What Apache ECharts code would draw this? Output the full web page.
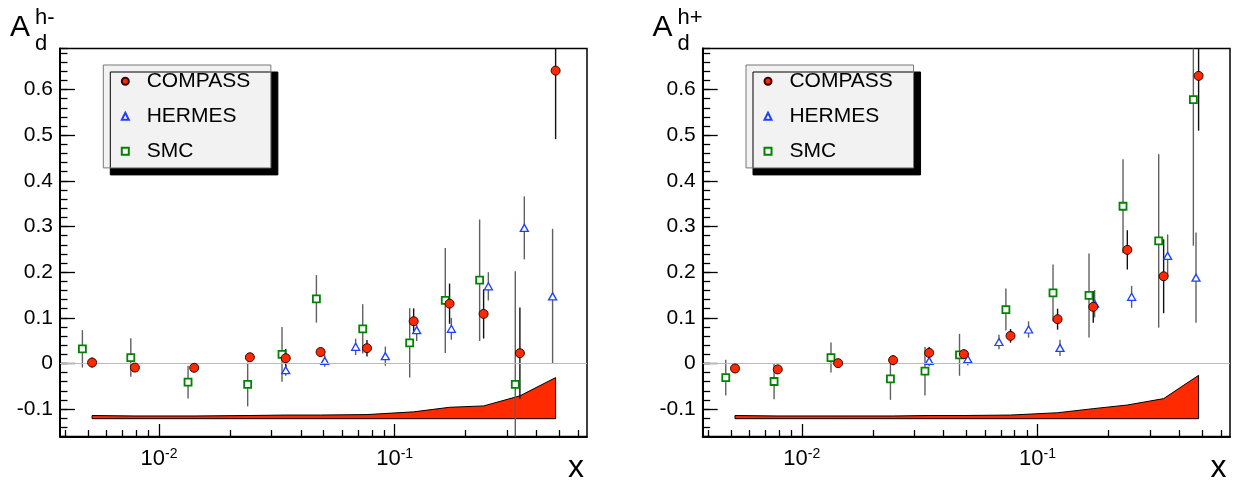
<!DOCTYPE html>
<html><head><meta charset="utf-8">
<script src="https://cdn.jsdelivr.net/npm/echarts@6/dist/echarts.min.js"></script>
<style>html,body{margin:0;padding:0;background:#fff}#c{width:1237px;height:484px}</style>
</head><body><div id="c"></div>
<script>
// ---------- data: left panel A_d^{h-} ----------
const hmCompassX = [0.0052, 0.0079, 0.0141, 0.0243, 0.0345, 0.0485, 0.0763, 0.1204, 0.171, 0.2385, 0.340, 0.482];
const hmCompassY = [0.002, -0.009, -0.0095, 0.0135, 0.0115, 0.025, 0.0335, 0.0926, 0.131, 0.1086, 0.0226, 0.6415];
const hmCompassE = [0.011, 0.008, 0.008, 0.010, 0.020, 0.010, 0.018, 0.028, 0.044, 0.054, 0.100, 0.150];
const hmSyst     = [0.007, 0.006, 0.006, 0.007, 0.008, 0.008, 0.009, 0.015, 0.025, 0.028, 0.050, 0.090];

const hmHermesX = [0.0345, 0.0505, 0.0683, 0.0913, 0.124, 0.174, 0.2498, 0.355, 0.468];
const hmHermesY = [-0.0147, 0.0057, 0.0364, 0.016, 0.073, 0.076, 0.169, 0.297, 0.147];
const hmHermesE = [0.012, 0.013, 0.018, 0.021, 0.024, 0.024, 0.031, 0.069, 0.148];

const hmSmcX = [0.00473, 0.00759, 0.01328, 0.02378, 0.03326, 0.04655, 0.0732, 0.1158, 0.164, 0.2294, 0.325];
const hmSmcY = [0.032, 0.013, -0.041, -0.046, 0.0197, 0.1415, 0.0758, 0.045, 0.138, 0.1824, -0.046];
const hmSmcE = [0.041, 0.042, 0.036, 0.048, 0.060, 0.052, 0.054, 0.076, 0.115, 0.133, 0.248];

// ---------- data: right panel A_d^{h+} ----------
const hpCompassX = [0.00521, 0.00791, 0.01426, 0.0244, 0.0347, 0.0487, 0.0768, 0.1216, 0.1723, 0.2403, 0.3426, 0.482];
const hpCompassY = [-0.011, -0.013, 0.0007, 0.0073, 0.0233, 0.0204, 0.0605, 0.097, 0.124, 0.2488, 0.191, 0.63];
const hpCompassE = [0.010, 0.010, 0.006, 0.011, 0.013, 0.010, 0.015, 0.023, 0.035, 0.043, 0.081, 0.120];
const hpSyst     = [0.007, 0.006, 0.006, 0.006, 0.007, 0.007, 0.008, 0.013, 0.022, 0.030, 0.044, 0.095];

const hpHermesX = [0.0347, 0.0506, 0.0686, 0.0916, 0.1245, 0.1746, 0.2506, 0.3562, 0.470];
const hpHermesY = [0.0057, 0.0094, 0.047, 0.0744, 0.0342, 0.131, 0.146, 0.2357, 0.188];
const hpHermesE = [0.012, 0.014, 0.016, 0.018, 0.018, 0.030, 0.024, 0.047, 0.099];

const hpSmcX = [0.00476, 0.00763, 0.0133, 0.02377, 0.0333, 0.04667, 0.0734, 0.1163, 0.1653, 0.2304, 0.3264, 0.458];
const hpSmcY = [-0.031, -0.0395, 0.013, -0.0337, -0.017, 0.019, 0.118, 0.1546, 0.149, 0.3444, 0.2685, 0.578];
const hpSmcE = [0.039, 0.039, 0.033, 0.046, 0.053, 0.046, 0.046, 0.062, 0.092, 0.103, 0.190, 0.320];

const systBase = -0.121;
const legendNames = ['COMPASS', 'HERMES', 'SMC'];
const xMinorTicks = [0.004,0.005,0.006,0.007,0.008,0.009,0.02,0.03,0.04,0.05,0.06,0.07,0.08,0.09,0.2,0.3,0.4,0.5,0.6];
const xRange = [0.0038, 0.655];
const yRange = [-0.16, 0.69];

// ---------- chart ----------
const FONT = 'Liberation Sans, Arial, Helvetica, sans-serif';
const chart = echarts.init(document.getElementById('c'));

const grids = [
  {left: 60, top: 48.5, width: 527, height: 388},
  {left: 702.7, top: 48.5, width: 527.3, height: 388}
];

function supLabel(v) {
  const lg = Math.log10(v), e = Math.round(lg);
  if (Math.abs(lg - e) > 1e-6) return '';
  return '{b|10}{s|' + e + '}';
}

const xAxes = [], yAxes = [];
grids.forEach((g, gi) => {
  xAxes.push({
    type: 'log', logBase: 10, gridIndex: gi, position: 'bottom', min: xRange[0], max: xRange[1],
    axisLine: {show: true, onZero: false, lineStyle: {color: '#000', width: 2}},
    axisTick: {show: true, inside: true, length: 12.5, lineStyle: {color: '#000', width: 1.3}},
    minorTick: {show: false}, splitLine: {show: false}, minorSplitLine: {show: false},
    axisLabel: {
      show: true, margin: 11, showMinLabel: false, showMaxLabel: false, formatter: supLabel,
      rich: {
        b: {fontSize: 22, fontFamily: FONT, color: '#000'},
        s: {fontSize: 14, fontFamily: FONT, color: '#000', verticalAlign: 'top', lineHeight: 10}
      }
    }
  });
  xAxes.push({
    type: 'log', logBase: 10, gridIndex: gi, position: 'bottom', min: xRange[0], max: xRange[1],
    axisLine: {show: false, onZero: false},
    axisTick: {show: true, inside: true, length: 6.5, customValues: xMinorTicks, lineStyle: {color: '#000', width: 1.3}},
    axisLabel: {show: false}, splitLine: {show: false}, minorTick: {show: false}
  });
  yAxes.push({
    type: 'value', gridIndex: gi, position: 'left', min: yRange[0], max: yRange[1], splitNumber: 8,
    axisLine: {show: true, onZero: false, lineStyle: {color: '#000', width: 2}},
    axisTick: {show: true, inside: true, length: 15, lineStyle: {color: '#000', width: 1.3}},
    splitLine: {show: false},
    axisLabel: {show: true, margin: 7, fontSize: 21, fontFamily: FONT, color: '#000',
      showMinLabel: false, showMaxLabel: false,
      formatter: v => (Math.abs(v) < 1e-9 ? '0' : String(+v.toFixed(2)))}
  });
  yAxes.push({
    type: 'value', gridIndex: gi, position: 'left', min: yRange[0], max: yRange[1], interval: 0.02,
    axisLine: {show: false, onZero: false},
    axisTick: {show: true, inside: true, length: 7.5, lineStyle: {color: '#000', width: 1.3}},
    axisLabel: {show: false}, splitLine: {show: false}
  });
});

function errSeries(xs, ys, es, color, gi, name) {
  return {
    type: 'custom', name: name, xAxisIndex: gi * 2, yAxisIndex: gi * 2, silent: true, z: 2,
    data: xs.map((x, i) => [x, ys[i], es[i]]),
    renderItem(params, api) {
      const x = api.value(0), y = api.value(1), e = api.value(2);
      const p1 = api.coord([x, y + e]), p2 = api.coord([x, y - e]);
      const cs = params.coordSys;
      return {type: 'line', shape: {x1: p1[0], y1: Math.max(cs.y, p1[1]), x2: p2[0], y2: Math.min(cs.y + cs.height, p2[1])},
        style: {stroke: color, lineWidth: 1.4}};
    }
  };
}

function bandSeries(xs, syst, gi) {
  return {
    type: 'custom', name: 'syst' + gi, xAxisIndex: gi * 2, yAxisIndex: gi * 2, silent: true, z: 1,
    data: xs.map((x, i) => [x, systBase + syst[i]]),
    renderItem(params, api) {
      if (params.dataIndex !== 0) return null;
      const pts = xs.map((x, i) => api.coord([x, systBase + syst[i]]));
      pts.push(api.coord([xs[xs.length - 1], systBase]));
      pts.push(api.coord([xs[0], systBase]));
      return {type: 'polygon', shape: {points: pts}, style: {fill: '#ff2a00', stroke: '#000', lineWidth: 1}};
    }
  };
}

const symCompass = {symbol: 'circle', symbolSize: 9, itemStyle: {color: '#ff2a00', borderColor: '#3a0000', borderWidth: 1, opacity: 1}};
const symHermes = {symbol: 'triangle', symbolSize: [8, 7], itemStyle: {color: '#fff', borderColor: '#1f3fff', borderWidth: 1.3, opacity: 1}};
const symSmc = {symbol: 'rect', symbolSize: 7, itemStyle: {color: '#fff', borderColor: '#008400', borderWidth: 1.8, opacity: 1}};

function scatter(name, xs, ys, sym, gi, z, extra) {
  return Object.assign({
    type: 'scatter', name: name, xAxisIndex: gi * 2, yAxisIndex: gi * 2, z: z, silent: true,
    data: xs.map((x, i) => [x, ys[i]])
  }, sym, extra || {});
}

const zeroLine = {markLine: {silent: true, symbol: 'none', label: {show: false},
  lineStyle: {color: '#bbbbbb', width: 1, type: 'solid'}, data: [{yAxis: 0}], animation: false}};

const panels = [
  {c: [hmCompassX, hmCompassY, hmCompassE, hmSyst], h: [hmHermesX, hmHermesY, hmHermesE], s: [hmSmcX, hmSmcY, hmSmcE]},
  {c: [hpCompassX, hpCompassY, hpCompassE, hpSyst], h: [hpHermesX, hpHermesY, hpHermesE], s: [hpSmcX, hpSmcY, hpSmcE]}
];

const series = [];
panels.forEach((p, gi) => {
  series.push(bandSeries(p.c[0], p.c[3], gi));
  series.push(errSeries(p.s[0], p.s[1], p.s[2], '#606060', gi, 'SMC err' + gi));
  series.push(errSeries(p.h[0], p.h[1], p.h[2], '#606060', gi, 'HERMES err' + gi));
  series.push(errSeries(p.c[0], p.c[1], p.c[2], '#111', gi, 'COMPASS err' + gi));
  series.push(scatter('SMC', p.s[0], p.s[1], symSmc, gi, 3, zeroLine));
  series.push(scatter('HERMES', p.h[0], p.h[1], symHermes, gi, 4));
  series.push(scatter('COMPASS', p.c[0], p.c[1], symCompass, gi, 5));
});

function legendAt(left) {
  return {
    data: legendNames, orient: 'vertical', left: left, top: 65,
    padding: [4.3, 20.7, 4.6, 17.5], itemGap: 11, itemWidth: 7, itemHeight: 7,
    backgroundColor: '#f2f2f2', borderColor: '#777', borderWidth: 1,
    shadowColor: '#000', shadowBlur: 0, shadowOffsetX: 7, shadowOffsetY: 7,
    selectedMode: false,
    textStyle: {fontSize: 21, fontFamily: FONT, color: '#000', lineHeight: 24, padding: [0, 0, 0, 12.9]}
  };
}

function titleTexts(dx, supTxt) {
  return [
    {type: 'text', left: 10 + dx, top: 13, style: {text: 'A', font: '30px ' + FONT, fill: '#000'}},
    {type: 'text', left: 35 + dx, top: 6.5, style: {text: supTxt, font: '22px ' + FONT, fill: '#000'}},
    {type: 'text', left: 35 + dx, top: 32.5, style: {text: 'd', font: '22px ' + FONT, fill: '#000'}},
    {type: 'text', left: 568 + dx, top: 452, style: {text: 'x', font: '32px ' + FONT, fill: '#000'}}
  ];
}

chart.setOption({
  animation: false,
  grid: grids.map(g => Object.assign({show: true, borderColor: '#000', borderWidth: 1.5, backgroundColor: 'transparent'}, g)),
  xAxis: xAxes,
  yAxis: yAxes,
  legend: [legendAt(103.3), legendAt(746)],
  graphic: titleTexts(0, 'h-').concat(titleTexts(642.5, 'h+')),
  series: series
});
</script>
</body></html>
